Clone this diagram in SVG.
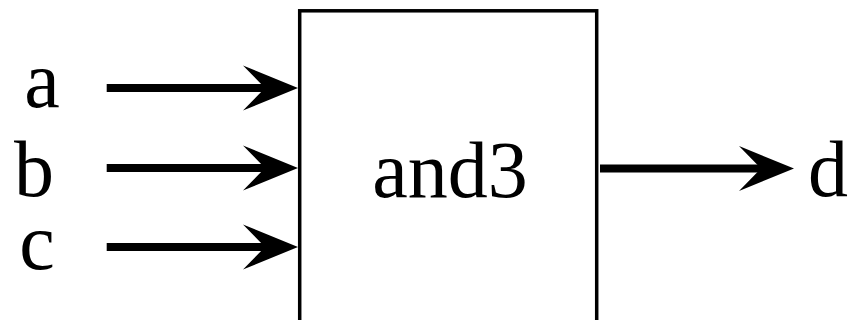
<svg xmlns="http://www.w3.org/2000/svg" width="852" height="320" viewBox="0 0 852 320">
  <defs>
    <marker id="ah" markerUnits="userSpaceOnUse" markerWidth="56" markerHeight="46" refX="22" refY="22.5" orient="auto" overflow="visible">
      <path d="M0,0 L55,22.5 L0,45 L22,22.5 Z" fill="#000"/>
    </marker>
  </defs>
  <g id="and3">
    <rect x="299.7" y="10.8" width="297" height="400" fill="#fff" stroke="#000" stroke-width="3.5"/>
    <text font-family="Liberation Serif" font-size="80" text-anchor="middle" x="450" y="197">and3</text>
  </g>
  <g id="a"><text font-family="Liberation Serif" font-size="80" text-anchor="middle" x="42" y="107">a</text></g>
  <g id="b"><text font-family="Liberation Serif" font-size="80" text-anchor="middle" x="34" y="196">b</text></g>
  <g id="c"><text font-family="Liberation Serif" font-size="80" text-anchor="middle" x="37" y="269">c</text></g>
  <g id="d"><text font-family="Liberation Serif" font-size="80" text-anchor="middle" x="828" y="196">d</text></g>
  <g id="connectors" stroke="#000" stroke-width="8" fill="none" marker-end="url(#ah)">
    <line x1="106.7" y1="88" x2="265" y2="88"/>
    <line x1="106.7" y1="168" x2="265" y2="168"/>
    <line x1="106.7" y1="247" x2="265" y2="247"/>
    <line x1="600" y1="168.5" x2="761" y2="168.5"/>
  </g>
</svg>
